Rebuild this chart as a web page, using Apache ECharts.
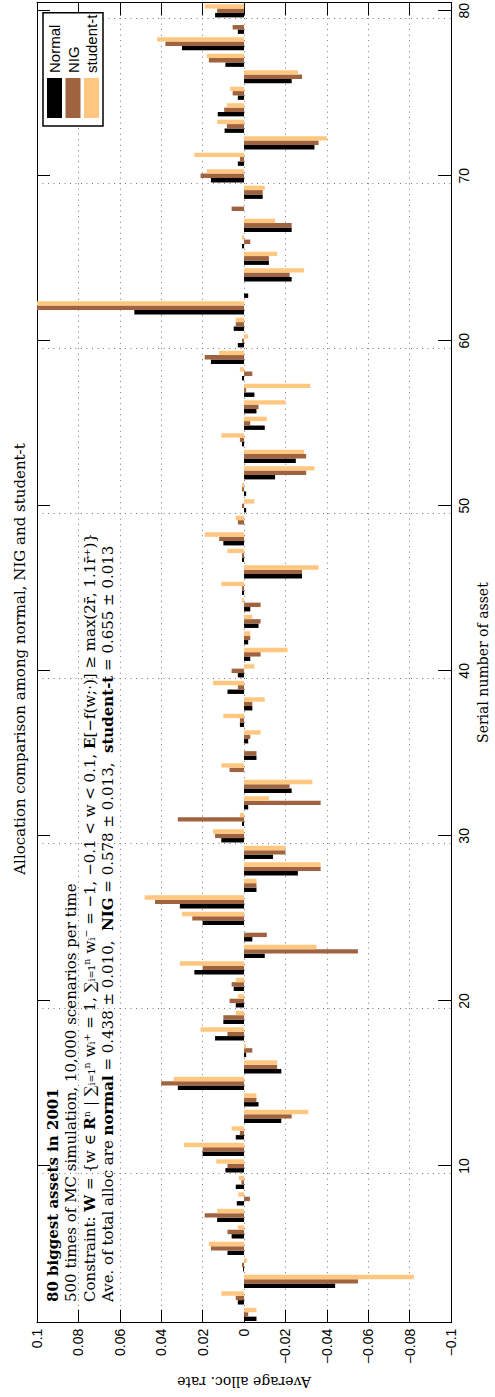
<!DOCTYPE html>
<html><head><meta charset="utf-8">
<script src="https://cdn.jsdelivr.net/npm/echarts@6/dist/echarts.min.js"></script>
<style>
html,body{margin:0;padding:0;background:#fff;width:495px;height:1397px;overflow:hidden;}
#chart{position:absolute;left:0;top:0;width:1397px;height:495px;transform-origin:0 0;transform:translate(0,1397px) rotate(-90deg);}
</style></head><body><div id="chart"></div>
<script>
const assets = ['1','2','3','4','5','6','7','8','9','10','11','12','13','14','15','16','17','18','19','20',
'21','22','23','24','25','26','27','28','29','30','31','32','33','34','35','36','37','38','39','40',
'41','42','43','44','45','46','47','48','49','50','51','52','53','54','55','56','57','58','59','60',
'61','62','63','64','65','66','67','68','69','70','71','72','73','74','75','76','77','78','79','80'];
const assetTicks = ['10','20','30','40','50','60','70','80'];
const seriesNames = ['Normal','NIG','student-t'];
const normalVals = [-0.006,0.003,-0.044,0.0005,0.008,0.006,0.013,0.0035,0.004,0.009,
0.020,0.004,-0.018,-0.007,0.032,-0.018,-0.001,0.014,0.010,0.004,
0.005,0.024,-0.010,-0.004,0.020,0.031,-0.006,-0.026,-0.014,0.011,
0.001,-0.002,-0.023,0.000,-0.006,-0.002,0.002,-0.004,0.008,0.003,
-0.003,-0.002,-0.007,-0.003,0.001,-0.028,0.001,0.010,0.000,-0.001,
-0.001,-0.015,-0.025,0.001,-0.010,-0.006,-0.005,0.001,0.016,0.003,
0.005,0.053,-0.002,-0.023,-0.012,0.001,-0.023,0.000,-0.009,0.016,
0.003,-0.034,0.0094,0.0127,0.003,-0.023,0.009,0.030,0.003,0.014];
const nigVals = [-0.002,0.004,-0.055,0.001,0.016,0.008,0.019,-0.0028,0.0013,0.008,
0.020,0.002,-0.023,-0.006,0.040,-0.016,-0.004,0.008,0.010,0.007,
0.006,0.020,-0.055,-0.011,0.025,0.043,-0.006,-0.037,-0.020,0.014,
0.032,-0.037,-0.022,0.007,-0.006,-0.003,0.002,-0.004,0.003,0.006,
-0.008,-0.003,-0.008,-0.008,0.001,-0.028,0.001,0.012,0.003,0.001,
0.001,-0.030,-0.030,0.002,-0.003,-0.007,-0.001,-0.004,0.019,0.001,
0.004,0.105,0.000,-0.022,-0.012,-0.003,-0.023,0.006,-0.009,0.021,
0.002,-0.036,0.0083,0.0096,0.0055,-0.028,0.017,0.038,0.0055,0.013];
const studentVals = [-0.006,0.011,-0.082,-0.0015,0.017,0.003,0.013,0.0028,0.0025,0.0134,
0.029,0.006,-0.031,-0.006,0.034,-0.016,-0.001,0.021,0.004,0.003,
0.004,0.031,-0.035,0.000,0.030,0.048,-0.006,-0.037,-0.020,0.015,
0.002,-0.012,-0.033,0.011,0.000,-0.008,0.010,-0.010,0.015,-0.005,
-0.021,-0.003,-0.004,0.001,0.011,-0.036,0.008,0.019,0.004,-0.005,
0.001,-0.034,-0.029,0.011,-0.011,-0.020,-0.032,0.002,0.012,-0.002,
0.004,0.105,0.000,-0.029,-0.016,0.001,-0.015,0.000,-0.010,0.018,
0.024,-0.040,0.013,0.0083,0.0067,-0.026,0.018,0.042,0.000,0.019];
const colors = ['#000000','#9F643F','#FFC77F'];

const tickSet = new Set(assetTicks);
const serif = '"DejaVu Serif", serif';
const sans = '"Liberation Sans", Arial, sans-serif';
const fmt = v => v === 0 ? '0' : (v < 0 ? '\u2212' : '') + String(+Math.abs(v).toFixed(2));
const dotted = {type:[1,4.5], color:'#777', width:1};
const axisBlack = {color:'#000', width:1};

const chart = echarts.init(document.getElementById('chart'), null, {renderer:'svg'});
chart.setOption({
  animation:false,
  backgroundColor:'#fff',
  title:{text:'Allocation comparison among normal, NIG and student-t', left:733, textAlign:'center', top:7,
    textStyle:{fontFamily:serif, fontSize:15, fontWeight:'normal', color:'#000'}},
  legend:{data:seriesNames, orient:'vertical', left:1271, top:43, itemWidth:40, itemHeight:15, itemGap:3.5,
    padding:[4,2,4,8], borderColor:'#000', borderWidth:1.5, backgroundColor:'#fff', icon:'rect', z:10,
    textStyle:{fontFamily:sans, fontSize:15, color:'#000', lineHeight:15}},
  grid:{left:71, right:2, top:37, bottom:37},
  xAxis:[
    {type:'category', data:assets, position:'bottom', boundaryGap:true,
     axisLine:{onZero:false, lineStyle:axisBlack},
     axisTick:{show:true, inside:true, length:13, alignWithLabel:true, interval:(i,v)=>tickSet.has(v), lineStyle:axisBlack},
     axisLabel:{interval:(i,v)=>tickSet.has(v), fontFamily:sans, fontSize:14, color:'#000', margin:6},
     splitLine:{show:true, interval:(i,v)=>tickSet.has(v), lineStyle:dotted},
     name:'Serial number of asset', nameLocation:'middle', nameGap:23,
     nameTextStyle:{fontFamily:serif, fontSize:14, color:'#000'}},
    {type:'category', data:assets, position:'top', boundaryGap:true,
     axisLine:{onZero:false, lineStyle:axisBlack},
     axisTick:{show:true, inside:true, length:13, alignWithLabel:true, interval:(i,v)=>tickSet.has(v), lineStyle:axisBlack},
     axisLabel:{show:false}, splitLine:{show:false}}
  ],
  yAxis:[
    {type:'value', min:-0.1, max:0.1, interval:0.02, position:'left',
     axisLine:{show:true, onZero:false, lineStyle:axisBlack},
     axisTick:{show:true, inside:true, length:13, lineStyle:axisBlack},
     axisLabel:{formatter:fmt, fontFamily:sans, fontSize:14, color:'#000', margin:6},
     splitLine:{show:true, lineStyle:dotted},
     name:'Average alloc. rate', nameLocation:'middle', nameRotate:90, nameGap:50,
     nameTextStyle:{fontFamily:serif, fontSize:14, color:'#000'}},
    {type:'value', min:-0.1, max:0.1, interval:0.02, position:'right',
     axisLine:{show:true, onZero:false, lineStyle:axisBlack},
     axisTick:{show:true, inside:true, length:13, lineStyle:axisBlack},
     axisLabel:{show:false}, splitLine:{show:false}}
  ],
  series:[normalVals, nigVals, studentVals].map((d,k)=>({
    type:'bar', name:seriesNames[k], data:d, xAxisIndex:0, yAxisIndex:0,
    barGap:'0%', barCategoryGap:'20%', clip:true, itemStyle:{color:colors[k]}
  })),
  graphic:[
    {type:'text', x:95, y:53, z:5, style:{text:'80 biggest assets in 2001', font:'bold 15px '+serif, fill:'#000', verticalAlign:'middle'}},
    {type:'text', x:95, y:71, z:5, style:{text:'500 times of MC simulation, 10,000 scenarios per time', font:'15px '+serif, fill:'#000', verticalAlign:'middle'}},
    {type:'text', x:95, y:90, z:5, style:{
      text:'Constraint: {b|W} = {w \u2208 {b|R}\u207F | \u2211\u1D62\u208C\u2081\u207F w\u1D62\u207A = 1, \u2211\u1D62\u208C\u2081\u207F w\u1D62\u207B = \u22121, \u22120.1 < w < 0.1, {b|E}[\u2212f(w;\u00B7)] \u2265 max(2r\u0304, 1.1r\u0304\u207A)}',
      font:'15px '+serif, fill:'#000', verticalAlign:'middle',
      rich:{b:{fontWeight:'bold', fontFamily:serif, fontSize:15}}}},
    {type:'text', x:95, y:108, z:5, style:{
      text:'Ave. of total alloc are {b|normal} = 0.438 \u00B1 0.010,  {b|NIG} = 0.578 \u00B1 0.013,  {b|student-t} = 0.655 \u00B1 0.013',
      font:'15px '+serif, fill:'#000', verticalAlign:'middle',
      rich:{b:{fontWeight:'bold', fontFamily:serif, fontSize:15}}}}
  ]
});
</script></body></html>
